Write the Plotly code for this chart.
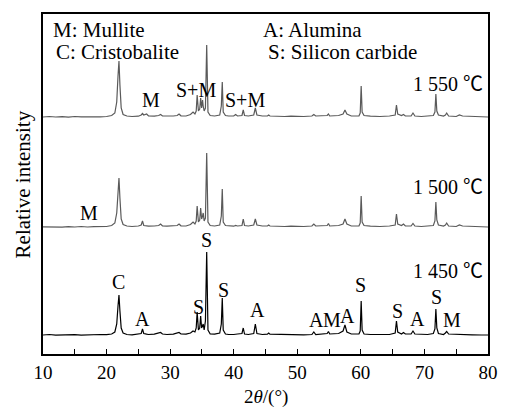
import plotly.graph_objects as go

two_theta = [
    10, 11, 12, 13, 14, 15, 16, 17, 18, 19,
    20, 20.8, 21.3, 21.6, 21.8, 21.95, 22.1, 22.3, 22.6, 23.2,
    24, 25, 25.45, 25.65, 25.85, 26.3, 26.6, 27.5, 28.2, 28.5,
    28.8, 29.5, 30.5, 31.1, 31.4, 31.7, 32.5, 33.2, 33.6, 33.9,
    34.1, 34.25, 34.45, 34.65, 34.8, 34.95, 35.1, 35.2, 35.35, 35.55,
    35.75, 35.95, 36.3, 37, 37.8, 38.05, 38.2, 38.35, 38.7, 39.2,
    40, 40.3, 40.6, 41.3, 41.5, 41.7, 42.3, 43.15, 43.4, 43.65,
    44.5, 45.3, 45.5, 45.7, 47, 48, 49, 50, 51, 52.3,
    52.6, 52.9, 54, 54.7, 54.9, 55.1, 56.5, 57.2, 57.5, 57.8,
    58.5, 59.7, 59.9, 60.05, 60.2, 60.5, 61.5, 63, 64.5, 65.4,
    65.6, 65.8, 66.4, 66.7, 67, 67.9, 68.2, 68.5, 69.5, 70.5,
    71.4, 71.65, 71.8, 71.95, 72.2, 73, 73.3, 73.5, 73.8, 75,
    75.5, 76, 77.5, 79, 80,
]

i_1450 = [
    1, 1.5, 0.8, 1.2, 1, 1.4, 0.9, 1.3, 1, 1.5,
    1.3, 2, 4, 12, 30, 41, 25, 8, 3, 1.5,
    1.2, 1.8, 2.5, 7, 2.5, 1.8, 1.5, 1.8, 2.5, 3.5,
    2, 1.5, 1.8, 2.5, 3.5, 2, 1.8, 3, 5, 4,
    8, 24, 6, 8, 20, 8, 10, 12, 6, 15,
    84, 6, 2, 1.8, 3, 12, 38, 6, 2, 1.5,
    1.5, 1.5, 2, 2.5, 8, 2, 1.5, 2.5, 12, 2.5,
    1.5, 1.8, 3, 1.8, 1.5, 1.2, 1.5, 1.3, 1.2, 1.5,
    4, 1.5, 2, 2.5, 4.5, 2, 2.5, 5, 11, 4,
    2, 2, 5, 35, 6, 2, 1.5, 1.2, 1.5, 3,
    15, 4, 2, 3.5, 2, 2, 5, 2, 1.5, 1.5,
    2.5, 7, 27, 8, 2.5, 1.5, 3, 4.5, 2, 1.5,
    2, 1.5, 1.2, 1, 1,
]

i_1500 = [
    1.2, 1, 1.5, 0.8, 1.3, 1, 1.5, 1, 1.3, 1.6,
    1.5, 2.5, 5, 15, 38, 50, 30, 9, 3.5, 2,
    1.5, 2, 3, 7, 2.5, 2, 1.8, 2, 2.5, 4,
    2, 1.8, 2, 2.5, 4, 2.2, 2, 3.5, 6, 4,
    7, 22, 6, 8, 20, 9, 12, 15, 7, 10,
    75, 6, 2.5, 2, 3, 12, 39, 6, 2.5, 2,
    1.8, 2.5, 2, 2.5, 9, 2.5, 2, 3, 9, 3,
    2, 2, 3, 2, 1.5, 1.5, 1.8, 1.5, 1.5, 2,
    4, 2, 2.5, 2.5, 4.5, 2, 2.5, 4, 9, 4,
    2, 2, 5, 32, 6, 2.5, 1.8, 1.5, 2, 3,
    14, 4, 2.5, 4, 2, 2, 4.5, 2, 1.5, 2,
    2.5, 7, 26, 8, 3, 2, 3, 5, 2, 1.5,
    3, 2, 1.8, 1.5, 1,
]

i_1550 = [
    1, 1.5, 1, 1.3, 0.8, 1.5, 1.2, 1, 1.4, 1.2,
    1.5, 2.5, 5, 16, 42, 57, 33, 10, 3.5, 2,
    1.5, 1.8, 3, 4.5, 3, 4, 2, 1.8, 2.5, 3.5,
    2, 1.8, 2, 2.5, 4, 2.2, 2, 3.5, 6, 4,
    7, 23, 7, 9, 20, 10, 18, 12, 7, 10,
    73, 6, 2.5, 2, 3, 12, 36, 6, 2.5, 2,
    2, 3.5, 2, 2.5, 8, 2.5, 2, 3, 10, 3,
    2, 2, 3, 2, 1.5, 1.5, 1.8, 1.5, 1.5, 2,
    3.5, 2, 2.5, 2.5, 4, 2, 2.5, 4, 8, 4,
    2, 2, 5, 32, 6, 2.5, 1.8, 1.5, 2, 3,
    13, 4, 2.5, 3.5, 2, 2, 5, 2, 1.5, 2,
    2.5, 6, 24, 7, 3, 2, 3, 5, 2, 1.5,
    3, 2, 1.8, 1.5, 1,
]

series_names = ["1 450 ℃", "1 500 ℃", "1 550 ℃"]

# peak labels: (2theta, height above baseline, text)
labels_1450 = [
    (21.95, 54, "C"), (25.7, 17, "A"), (34.4, 29, "S"), (35.7, 96, "S"),
    (38.4, 46, "S"), (43.8, 26, "A"), (53.0, 16, "A"), (55.4, 16, "M"),
    (57.85, 20, "A"), (60.0, 51, "S"), (65.8, 25, "S"), (68.9, 17, "A"),
    (71.85, 39, "S"), (74.3, 16, "M"),
]
labels_1500 = [(17.2, 15, "M")]
labels_1550 = [(27.0, 18, "M"), (34.0, 28, "S+M"), (41.8, 18, "S+M")]

legend_left = ["M: Mullite", "C: Cristobalite"]
legend_right = ["A: Alumina", "S: Silicon carbide"]

FONT = "'Liberation Serif', 'Times New Roman', serif"
CJK = "'Noto Sans CJK SC'"
offsets = [18, 126, 236]
colors = ["#000000", "#5a5a5a", "#5a5a5a"]
all_i = [i_1450, i_1500, i_1550]
all_labels = [labels_1450, labels_1500, labels_1550]

fig = go.Figure()
for name, vals, off, col in zip(series_names, all_i, offsets, colors):
    fig.add_trace(go.Scatter(
        x=two_theta, y=[v + off for v in vals], mode="lines",
        line=dict(color=col, width=1.2), name=name, showlegend=False,
        hoverinfo="skip"))

ann = []
for labs, off in zip(all_labels, offsets):
    for x, h, t in labs:
        ann.append(dict(x=x, y=h + off, text=t, showarrow=False,
                        font=dict(family=FONT, size=20, color="black"),
                        xanchor="center", yanchor="middle"))

label_y = [85, 169, 272]
for name, y in zip(series_names, label_y):
    num, unit = name.split("℃")[0], "℃"
    txt = num + f'<span style="font-family:{CJK}">{unit}</span>'
    ann.append(dict(xref="paper", x=0.993, y=y, text=txt, showarrow=False,
                    font=dict(family=FONT, size=20, color="black"),
                    xanchor="right", yanchor="middle"))

for txt, x, y in [(legend_left[0], 11.2, 324), (legend_left[1], 11.7, 302),
                  (legend_right[0], 44.3, 324), (legend_right[1], 45.0, 302)]:
    ann.append(dict(x=x, y=y, text=txt, showarrow=False,
                    font=dict(family=FONT, size=21, color="black"),
                    xanchor="left", yanchor="middle"))

ann.append(dict(xref="paper", yref="paper", x=-0.044, y=0.5,
                text="Relative intensity", textangle=-90, showarrow=False,
                font=dict(family=FONT, size=21, color="black"),
                xanchor="center", yanchor="middle"))
ann.append(dict(xref="paper", yref="paper", x=0.5, y=-0.125,
                text="2<i>θ</i>/(°)", showarrow=False,
                font=dict(family=FONT, size=19, color="black"),
                xanchor="center", yanchor="middle"))

fig.update_layout(
    width=508, height=414,
    margin=dict(l=43, r=10, t=14, b=60),
    paper_bgcolor="white", plot_bgcolor="white",
    font=dict(family=FONT, color="black"),
    annotations=ann,
    xaxis=dict(range=[10, 80], dtick=10, tick0=10, showgrid=False,
               zeroline=False, showline=True, mirror=True,
               linecolor="black", linewidth=1.5,
               ticks="inside", ticklen=5, tickwidth=1.2, tickcolor="black",
               minor=dict(dtick=5, tick0=10, ticks="inside", ticklen=5,
                          tickwidth=1.2, tickcolor="black", showgrid=False),
               tickfont=dict(family=FONT, size=19, color="black")),
    yaxis=dict(range=[0, 340], showgrid=False, zeroline=False,
               showline=True, mirror=True, linecolor="black", linewidth=1.5,
               showticklabels=False, ticks=""),
)

fig.write_html("out.html", config={"displayModeBar": False},
               post_script="document.body.style.margin='0';"
                           "document.body.style.overflow='hidden';")
